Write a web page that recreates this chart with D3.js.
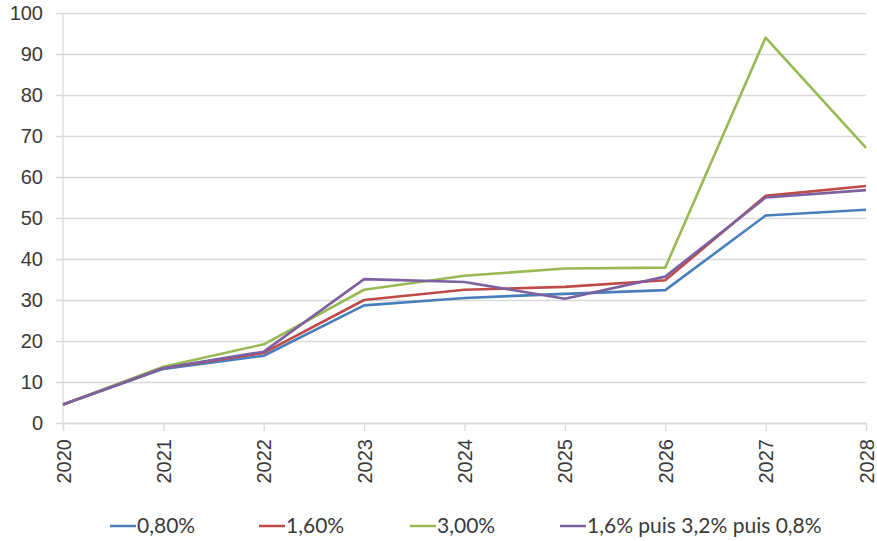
<!DOCTYPE html>
<html>
<head>
<meta charset="utf-8">
<script src="https://cdn.jsdelivr.net/npm/d3@7"></script>
<style>
  html, body { margin: 0; padding: 0; background: #fff; }
  svg { display: block; font-family: Lato, "Open Sans", sans-serif; }
</style>
</head>
<body>
<svg id="chart" width="877" height="541"></svg>
<script>
// Years on the horizontal axis
const years = [2020, 2021, 2022, 2023, 2024, 2025, 2026, 2027, 2028];

// One array per scenario
const s080 = [4.5, 13.2, 16.4, 28.7, 30.5, 31.5, 32.4, 50.6, 52.0];
const s160 = [4.5, 13.4, 17.1, 30.0, 32.5, 33.2, 34.8, 55.4, 57.8];
const s300 = [4.5, 13.7, 19.2, 32.5, 35.9, 37.7, 37.9, 94.0, 67.1];
const sMix = [4.5, 13.4, 17.4, 35.1, 34.4, 30.3, 35.7, 55.0, 56.8];

const seriesNames = ["0,80%", "1,60%", "3,00%", "1,6% puis 3,2% puis 0,8%"];
const seriesColors = ["#4a7ebb", "#be4b48", "#98b954", "#7d60a0"];
const seriesValues = [s080, s160, s300, sMix];

const yTicks = [0, 10, 20, 30, 40, 50, 60, 70, 80, 90, 100];

const svg = d3.select("#chart");
const plot = { left: 63, right: 866, top: 13, bottom: 423 };

const x = d3.scalePoint().domain(years).range([plot.left, plot.right]);
const y = d3.scaleLinear().domain([0, 100]).range([plot.bottom, plot.top]);

const gridColor = "#d9d9d9";
const textColor = "#3a3a3a";

// Horizontal gridlines with short ticks left of the axis
const yAxis = d3.axisLeft(y).tickValues(yTicks).tickSize(-(plot.right - plot.left)).tickPadding(0).tickFormat(d3.format("d"));
const gy = svg.append("g").attr("transform", `translate(${plot.left},0)`).call(yAxis);
gy.select(".domain").remove();
gy.selectAll(".tick line")
  .attr("x1", -7)
  .attr("stroke", gridColor)
  .attr("stroke-width", 1.3);
gy.selectAll(".tick text")
  .attr("x", -20)
  .attr("fill", textColor)
  .attr("font-size", 20);

// Vertical axis line
svg.append("line")
  .attr("x1", plot.left).attr("x2", plot.left)
  .attr("y1", plot.top).attr("y2", plot.bottom)
  .attr("stroke", gridColor).attr("stroke-width", 1.3);

// Bottom axis with rotated year labels
const xAxis = d3.axisBottom(x).tickSize(8).tickPadding(0);
const gx = svg.append("g").attr("transform", `translate(0,${plot.bottom})`).call(xAxis);
gx.select(".domain").attr("stroke", gridColor).attr("stroke-width", 1.3);
gx.selectAll(".tick line").attr("stroke", gridColor).attr("stroke-width", 1.3);
gx.selectAll(".tick text")
  .attr("fill", textColor)
  .attr("font-size", 20)
  .attr("text-anchor", "end")
  .attr("dy", "0.35em")
  .attr("transform", "translate(0,16) rotate(-90)")
  .attr("x", 0).attr("y", 0);

// Series lines
const line = d3.line().x((d, i) => x(years[i])).y(d => y(d));
seriesValues.forEach((vals, k) => {
  svg.append("path")
    .datum(vals)
    .attr("fill", "none")
    .attr("stroke", seriesColors[k])
    .attr("stroke-width", 2.6)
    .attr("stroke-linejoin", "round")
    .attr("d", line);
});

// Legend
const legendX = [110, 259, 410, 560];
const legendY = 526;
const lg = svg.append("g");
seriesNames.forEach((name, k) => {
  lg.append("line")
    .attr("x1", legendX[k]).attr("x2", legendX[k] + 26)
    .attr("y1", legendY).attr("y2", legendY)
    .attr("stroke", seriesColors[k]).attr("stroke-width", 2.5);
  lg.append("text")
    .attr("x", legendX[k] + 27).attr("y", legendY)
    .attr("dy", "0.35em")
    .attr("font-size", 21)
    .attr("fill", textColor)
    .text(name);
});
</script>
</body>
</html>
